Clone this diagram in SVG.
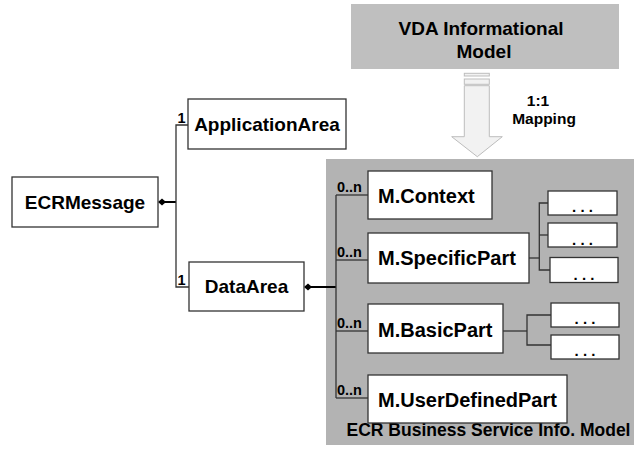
<svg xmlns="http://www.w3.org/2000/svg" width="637" height="449" viewBox="0 0 637 449">
<style>
.box{fill:#fff;stroke:#333;stroke-width:1.3}
.lbl{font-family:"Liberation Sans",Arial,sans-serif;font-weight:bold;fill:#000}
.big{font-size:19px}
.m{font-size:20px}
.mult{font-size:14.5px}
.dots{font-size:15px}
.ln{stroke:#333;stroke-width:1.3;fill:none}
.thick{stroke:#000;stroke-width:2;fill:none}
</style>
<rect width="637" height="449" fill="#fff"/>
<g id="panel">
<rect x="326" y="159" width="308" height="286" fill="#b3b3b3"/>
<text class="lbl" x="488.5" y="436" font-size="17.5" text-anchor="middle">ECR Business Service Info. Model</text>
</g>
<g id="vda">
<rect x="351" y="4" width="268" height="65" fill="#bfbfbf"/>
<text class="lbl big" x="481" y="35" text-anchor="middle">VDA Informational</text>
<text class="lbl big" x="484" y="58" text-anchor="middle">Model</text>
</g>
<g id="mapping-arrow" fill="#f2f2f2" stroke="#bdbdbd" stroke-width="1">
<rect x="464.3" y="73.3" width="25" height="2.7"/>
<rect x="464.3" y="79" width="25" height="5.3"/>
<polygon points="464.3,85.7 489.3,85.7 489.3,136.7 502.3,136.7 477.3,156.7 451.7,136.7 464.3,136.7"/>
</g>
<g id="mapping-label">
<text class="lbl" x="538" y="106" font-size="15.5" text-anchor="middle">1:1</text>
<text class="lbl" x="544" y="124" font-size="15.5" text-anchor="middle">Mapping</text>
</g>
<g id="connectors">
<polygon points="158,202 162,198.5 166,202 162,205.5" fill="#000"/>
<line class="thick" x1="165" y1="202" x2="176" y2="202"/>
<polyline class="ln" points="188,125 176,125 176,287 189,287"/>
<polygon points="304,287 308,283.5 312,287 308,290.5" fill="#000"/>
<line class="thick" x1="311" y1="287" x2="336" y2="287"/>
<line class="ln" x1="336" y1="195" x2="336" y2="398"/>
<line class="ln" x1="336" y1="195" x2="368" y2="195"/>
<line class="ln" x1="336" y1="260" x2="368" y2="260"/>
<line class="ln" x1="336" y1="331" x2="368" y2="331"/>
<line class="ln" x1="336" y1="398" x2="368" y2="398"/>
<line class="ln" x1="529" y1="258" x2="539.3" y2="258"/>
<polyline class="ln" points="548,203 539.3,203 539.3,270 550,270"/>
<line class="ln" x1="539.3" y1="235" x2="548" y2="235"/>
<line class="ln" x1="503" y1="331" x2="527" y2="331"/>
<polyline class="ln" points="551,315 527,315 527,345 551,345"/>
<text class="lbl mult" x="177.5" y="123">1</text>
<text class="lbl mult" x="177.5" y="285">1</text>
<text class="lbl mult" x="337" y="192">0..n</text>
<text class="lbl mult" x="337" y="257">0..n</text>
<text class="lbl mult" x="337" y="328">0..n</text>
<text class="lbl mult" x="337" y="395">0..n</text>
</g>
<g id="ECRMessage">
<rect class="box" x="12" y="177" width="146" height="50"/>
<text class="lbl big" x="85" y="209" text-anchor="middle">ECRMessage</text>
</g>
<g id="ApplicationArea">
<rect class="box" x="188" y="99" width="158" height="50"/>
<text class="lbl big" x="267" y="131" text-anchor="middle">ApplicationArea</text>
</g>
<g id="DataArea">
<rect class="box" x="189" y="262" width="115" height="49"/>
<text class="lbl big" x="246.5" y="293" text-anchor="middle">DataArea</text>
</g>
<g id="MContext">
<rect class="box" x="368" y="171" width="124" height="48"/>
<text class="lbl m" x="378" y="203">M.Context</text>
</g>
<g id="MSpecificPart">
<rect class="box" x="368" y="233" width="161" height="50"/>
<text class="lbl m" x="378" y="265">M.SpecificPart</text>
</g>
<g id="MBasicPart">
<rect class="box" x="368" y="304" width="135" height="49"/>
<text class="lbl m" x="378" y="336.5">M.BasicPart</text>
</g>
<g id="MUserDefinedPart">
<rect class="box" x="368" y="375" width="199" height="48"/>
<text class="lbl m" x="378" y="407">M.UserDefinedPart</text>
</g>
<g id="sp1">
<rect class="box" x="548" y="191" width="69" height="24"/>
<text class="lbl dots" x="582.5" y="212" text-anchor="middle">. . .</text>
</g>
<g id="sp2">
<rect class="box" x="548" y="223" width="69" height="24"/>
<text class="lbl dots" x="582.5" y="245" text-anchor="middle">. . .</text>
</g>
<g id="sp3">
<rect class="box" x="550" y="257.5" width="68" height="25"/>
<text class="lbl dots" x="584" y="280" text-anchor="middle">. . .</text>
</g>
<g id="bp1">
<rect class="box" x="551" y="303" width="68" height="24"/>
<text class="lbl dots" x="585" y="324" text-anchor="middle">. . .</text>
</g>
<g id="bp2">
<rect class="box" x="551" y="335" width="68" height="24"/>
<text class="lbl dots" x="585" y="356" text-anchor="middle">. . .</text>
</g>
</svg>
